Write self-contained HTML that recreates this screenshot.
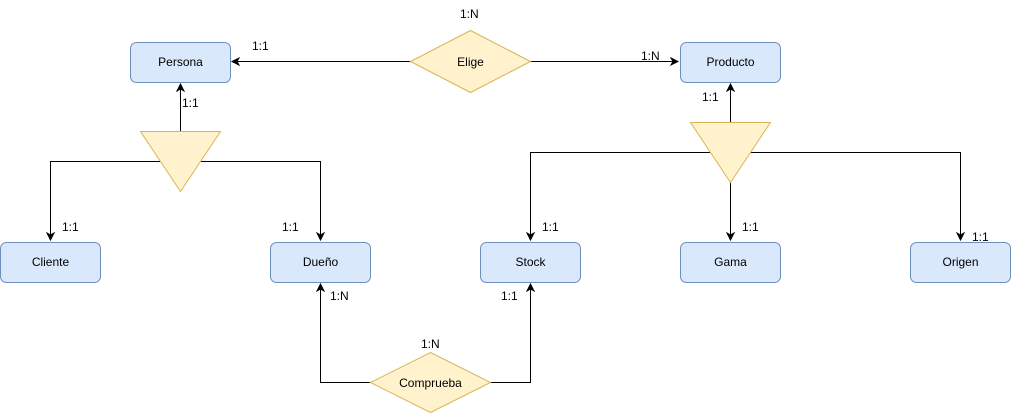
<!DOCTYPE html>
<html><head><meta charset="utf-8"><style>
html,body{margin:0;padding:0;background:#fff;}
svg text{font-family:"Liberation Sans",Arial,sans-serif;font-size:12px;fill:#000;}
</style></head><body>
<svg width="1011" height="413" viewBox="0 0 1011 413" xmlns="http://www.w3.org/2000/svg">
<defs><marker id="a" markerWidth="10" markerHeight="10" refX="8" refY="5" orient="auto" markerUnits="userSpaceOnUse"><path d="M1,1.5 L8,5 L1,8.5 L3,5 Z" fill="#000" stroke="#000"/></marker></defs>
<g stroke="#000" stroke-width="1" fill="none">
<path d="M410.5 61.5 H232" marker-end="url(#a)"/>
<path d="M530.5 61.5 H678" marker-end="url(#a)"/>
<path d="M180.5 131 V84" marker-end="url(#a)"/>
<path d="M730.5 122 V84" marker-end="url(#a)"/>
<path d="M160 161.5 H50.5 V240" marker-end="url(#a)"/>
<path d="M200 161.5 H320.5 V240" marker-end="url(#a)"/>
<path d="M710 152.5 H530.5 V240" marker-end="url(#a)"/>
<path d="M750 152.5 H960.5 V240" marker-end="url(#a)"/>
<path d="M730.5 182 V240" marker-end="url(#a)"/>
<path d="M370 382.5 H320.5 V284" marker-end="url(#a)"/>
<path d="M490 382.5 H530.5 V284" marker-end="url(#a)"/>
</g>
<g fill="#dae8fc" stroke="#6c8ebf">
<rect x="130.5" y="42.5" width="100" height="40" rx="6"/>
<rect x="680.5" y="42.5" width="100" height="40" rx="6"/>
<rect x="0.5" y="242.5" width="100" height="40" rx="6"/>
<rect x="270.5" y="242.5" width="100" height="40" rx="6"/>
<rect x="480.5" y="242.5" width="100" height="40" rx="6"/>
<rect x="680.5" y="242.5" width="100" height="40" rx="6"/>
<rect x="910.5" y="242.5" width="100" height="40" rx="6"/>
</g>
<g fill="#fff2cc" stroke="#d6b656">
<path d="M470.5 30.5 L530.5 61.5 L470.5 92.5 L410.5 61.5 Z"/>
<path d="M430.5 352.5 L490.5 382.5 L430.5 412.5 L370.5 382.5 Z"/>
<path d="M140.5 131.5 H220.5 L180.5 191.5 Z"/>
<path d="M690.5 122.5 H770.5 L730.5 182.5 Z"/>
</g>
<g text-anchor="middle">
<text x="180.5" y="66">Persona</text>
<text x="730.5" y="66">Producto</text>
<text x="50.5" y="266">Cliente</text>
<text x="320.5" y="266">Dueño</text>
<text x="530.5" y="266">Stock</text>
<text x="730.5" y="266">Gama</text>
<text x="960.5" y="266">Origen</text>
<text x="470.5" y="66">Elige</text>
<text x="430.5" y="387">Comprueba</text>
</g>
<g>
<text x="460" y="18">1:N</text>
<text x="252" y="50">1:1</text>
<text x="641" y="60">1:N</text>
<text x="182" y="107">1:1</text>
<text x="702" y="101">1:1</text>
<text x="62" y="231">1:1</text>
<text x="282" y="231">1:1</text>
<text x="542" y="231">1:1</text>
<text x="742" y="231">1:1</text>
<text x="972" y="241">1:1</text>
<text x="330" y="300">1:N</text>
<text x="501" y="300">1:1</text>
<text x="421" y="348">1:N</text>
</g>
</svg>
</body></html>
